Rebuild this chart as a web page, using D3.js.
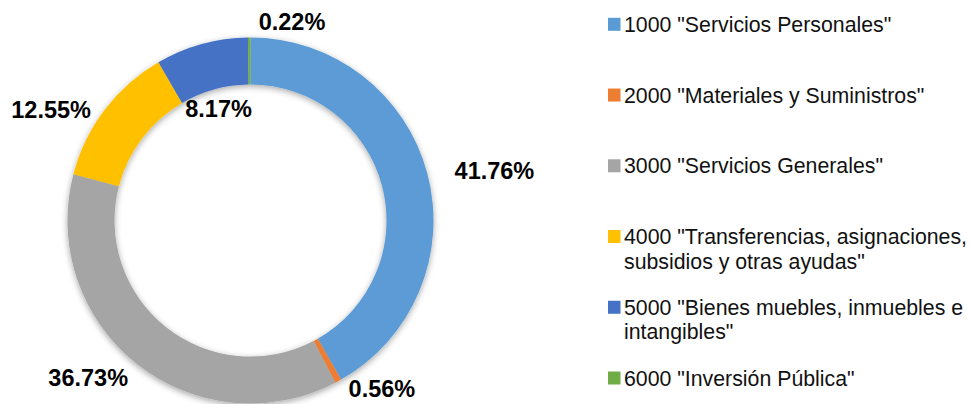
<!DOCTYPE html>
<html>
<head>
<meta charset="utf-8">
<script src="https://cdn.jsdelivr.net/npm/d3@7"></script>
<style>
  body { margin: 0; background: #fff; }
  svg { display: block; font-family: "Liberation Sans", Arial, sans-serif; }
</style>
</head>
<body>
<div id="chart"></div>
<script>
// data
const categories = [
    '1000 "Servicios Personales"',
    '2000 "Materiales y Suministros"',
    '3000 "Servicios Generales"',
    '4000 "Transferencias, asignaciones,\nsubsidios y otras ayudas"',
    '5000 "Bienes muebles, inmuebles e\nintangibles"',
    '6000 "Inversión Pública"'
];
const shares = [41.76, 0.56, 36.73, 12.55, 8.17, 0.22];
const colors = ["#5B9BD5", "#ED7D31", "#A5A5A5", "#FFC000", "#4472C4", "#70AD47"];

// label placement (dragged by hand in the original): [radius, angle in degrees from top]
const labelPlace = [[249, 78.4], [213, 141.9], [226, 225.9], [228, 299], [116, 344], [203, 11.8]];

const width = 971;
const height = 404;
const cx = 250.5, cy = 220.5;
const outerR = 183, innerR = 136;

const svg = d3.select("#chart").append("svg")
    .attr("width", width)
    .attr("height", height);

const defs = svg.append("defs");
const shadow = defs.append("filter")
    .attr("id", "shadow")
    .attr("x", "-20%").attr("y", "-20%")
    .attr("width", "140%").attr("height", "140%");
shadow.append("feDropShadow")
    .attr("dx", 0).attr("dy", 2)
    .attr("stdDeviation", 3)
    .attr("flood-color", "#000")
    .attr("flood-opacity", 0.35);

const data = categories.map((c, i) => ({ name: c, value: shares[i], color: colors[i] }));

const pie = d3.pie()
    .value(d => d.value)
    .sort(null);

const arc = d3.arc()
    .innerRadius(innerR)
    .outerRadius(outerR);

const g = svg.append("g")
    .attr("transform", `translate(${cx},${cy})`);

g.append("g")
    .attr("filter", "url(#shadow)")
    .selectAll("path")
    .data(pie(data))
    .enter().append("path")
    .attr("d", arc)
    .attr("fill", d => d.data.color);

// percentage labels
g.selectAll(".pct")
    .data(data)
    .enter().append("text")
    .attr("class", "pct")
    .attr("x", (d, i) => labelPlace[i][0] * Math.sin(labelPlace[i][1] * Math.PI / 180))
    .attr("y", (d, i) => -labelPlace[i][0] * Math.cos(labelPlace[i][1] * Math.PI / 180))
    .attr("dy", "0.36em")
    .attr("text-anchor", "middle")
    .style("font-size", "23.5px")
    .style("font-weight", "bold")
    .style("fill", "#000")
    .text(d => d.value.toFixed(2) + "%");

// legend
const legendY = d3.scaleLinear()
    .domain([0, categories.length - 1])
    .range([24.3, 378]);

const legend = svg.append("g")
    .attr("transform", "translate(608,0)");

const items = legend.selectAll(".item")
    .data(data)
    .enter().append("g")
    .attr("class", "item")
    .attr("transform", (d, i) => `translate(0,${legendY(i)})`);

items.append("rect")
    .attr("x", 0)
    .attr("y", -6.5)
    .attr("width", 12.5)
    .attr("height", 13)
    .attr("fill", d => d.color);

items.append("text")
    .style("font-size", "21.3px")
    .style("fill", "#111")
    .selectAll("tspan")
    .data(d => d.name.split("\n"))
    .enter().append("tspan")
    .attr("x", 16)
    .attr("y", (d, i) => i * 24.5)
    .attr("dy", "0.36em")
    .text(d => d);
</script>
</body>
</html>
